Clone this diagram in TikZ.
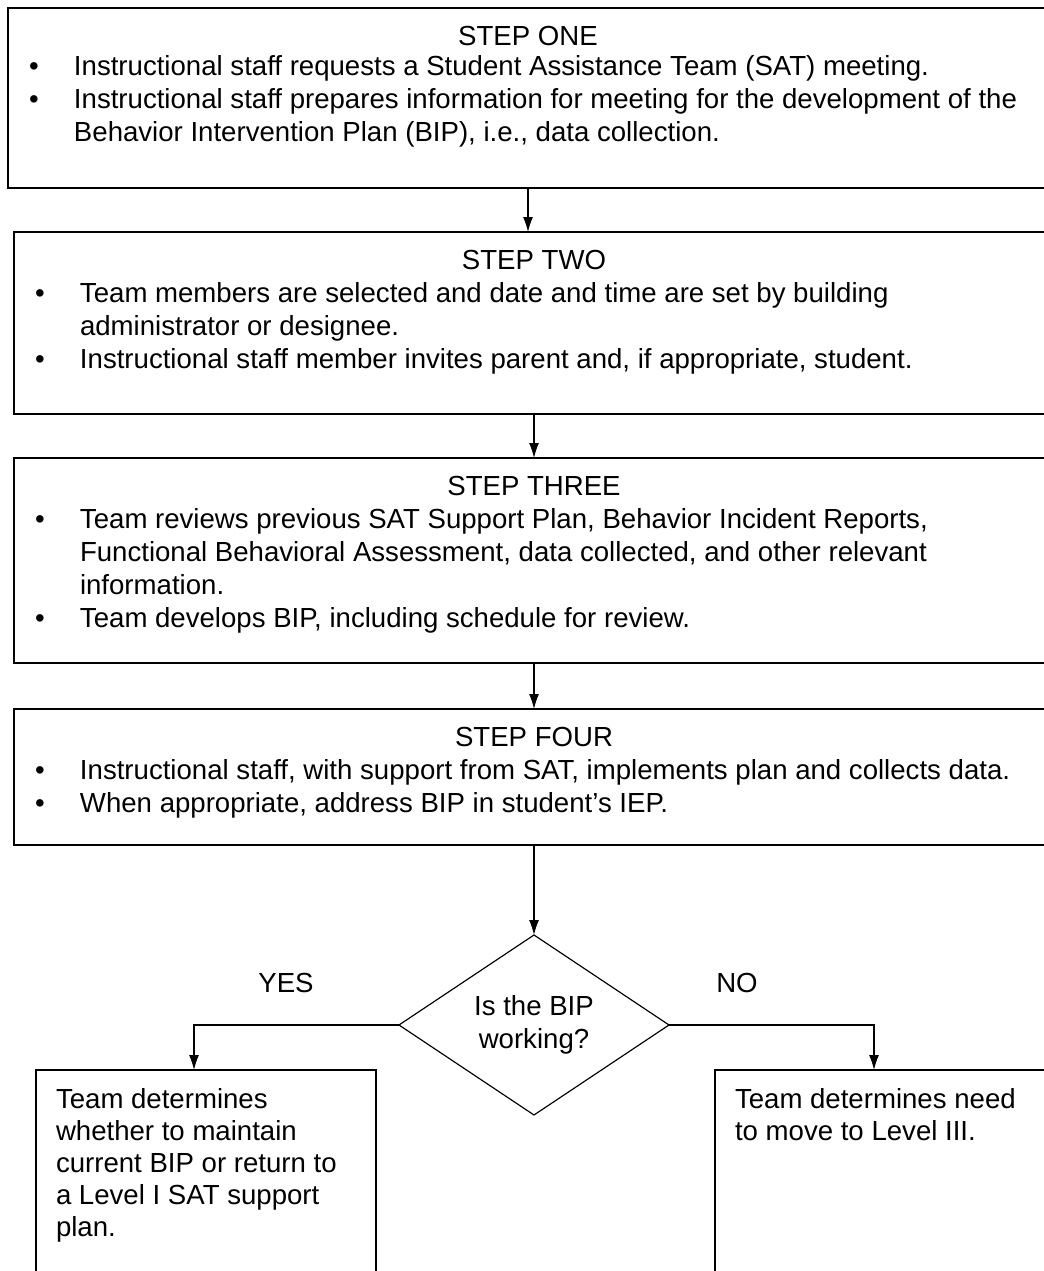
\documentclass[tikz,border=0pt]{standalone}
\usepackage{fontspec}
\setmainfont{Liberation Sans}
\usetikzlibrary{positioning,shapes.geometric,arrows.meta}
\tikzstyle{block} = [draw, rectangle, inner sep=0pt, outer sep=0pt, line width=1pt]
\tikzstyle{decision} = [draw, diamond, aspect=1.5, minimum width=135pt, minimum height=90pt, inner sep=0pt, outer sep=0pt, align=center, line width=0.6pt]
\tikzstyle{flow} = [draw, ->, line width=0.6pt]
\newcommand{\steptitle}[1]{\noindent\makebox[520pt][c]{\rule{0pt}{18.5pt}#1}}
\newcommand{\bitem}[1]{\par\noindent\hangindent=33pt\hangafter=1\makebox[33pt][l]{\hspace{10.5pt}\textbullet}#1}

\begin{document}
\begin{tikzpicture}[auto, node distance=22pt, >={Latex[length=7.5pt,width=5pt]}, font=\fontsize{13.8pt}{16.5pt}\selectfont]

\useasboundingbox (0,0) rectangle (522pt,-635.5pt);

\node [block, anchor=north west] (one) at (4pt,-4pt) {\begin{minipage}[t][90pt][t]{526pt}
\steptitle{STEP ONE}\par\vspace{-1.5pt}
\bitem{Instructional staff requests a Student Assistance Team (SAT) meeting.}
\bitem{Instructional staff prepares information for meeting for the development of the\\Behavior Intervention Plan (BIP), i.e., data collection.}
\end{minipage}};
\node [block, below=22pt of one] (two) {\begin{minipage}[t][91pt][t]{520pt}
\steptitle{STEP TWO}
\bitem{Team members are selected and date and time are set by building\\administrator or designee.}
\bitem{Instructional staff member invites parent and, if appropriate, student.}
\end{minipage}};
\node [block, below=22pt of two] (three) {\begin{minipage}[t][102.5pt][t]{520pt}
\steptitle{STEP THREE}
\bitem{Team reviews previous SAT Support Plan, Behavior Incident Reports,\\Functional Behavioral Assessment, data collected, and other relevant\\information.}
\bitem{Team develops BIP, including schedule for review.}
\end{minipage}};
\node [block, below=23pt of three] (four) {\begin{minipage}[t][68pt][t]{520pt}
\steptitle{STEP FOUR}
\bitem{Instructional staff, with support from SAT, implements plan and collects data.}
\bitem{When appropriate, address BIP in student’s IEP.}
\end{minipage}};

\node [decision, below=45pt of four] (test) {Is the BIP\\working?};
\node [xshift=-56.5pt, yshift=21pt] (yes) at (test.west) {YES};
\node [xshift=34pt, yshift=21pt] (no) at (test.east) {NO};

\node [block, below=22.5pt of test.west, xshift=-96.5pt] (keep) {\begin{minipage}[t][115pt][t]{170pt}
\leftskip=10pt \baselineskip=16pt \noindent\rule{0pt}{19pt}Team determines\\whether to maintain\\current BIP or return to\\a Level I SAT support\\plan.
\end{minipage}};
\node [block, below=22.5pt of test.east, xshift=108pt] (move) {\begin{minipage}[t][115pt][t]{170pt}
\leftskip=10pt \baselineskip=16pt \noindent\rule{0pt}{19pt}Team determines need\\to move to Level III.
\end{minipage}};

\draw [flow] ([xshift=-3pt]one.south) -- ([xshift=-3pt]two.north);
\draw [flow] (two) -- (three);
\draw [flow] (three) -- (four);
\draw [flow] (four) -- (test);
\draw [flow] (test.west) -| ([xshift=-6pt]keep.north);
\draw [flow] (test.east) -| ([xshift=-5.5pt]move.north);

\end{tikzpicture}
\end{document}
